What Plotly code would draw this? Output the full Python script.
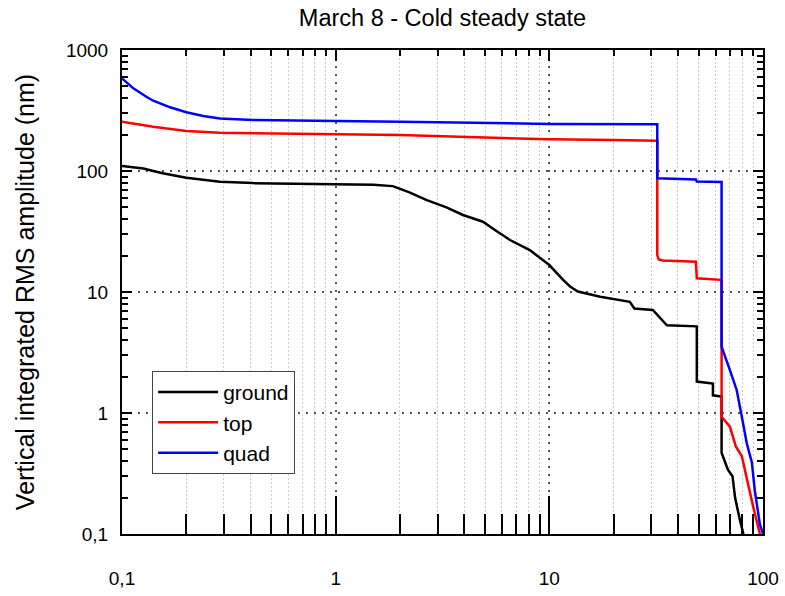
import plotly.graph_objects as go

# frequency (Hz) / integrated RMS (nm)
freq_ground = [0.1, 0.126, 0.14, 0.155, 0.2, 0.287, 0.41, 0.6, 1.0, 1.5, 1.85, 2.2, 2.67,
               3.3, 3.94, 4.89, 5.5, 6.54, 8.1, 10.0, 11.6, 12.5, 13.6, 17.3, 23.8, 25.0,
               30.5, 33.0, 35.5, 49.0, 49.0, 58.3, 58.3, 63.5, 64.0, 64.0, 68.5, 72.0,
               74.0, 78.0, 81.0]
rms_ground = [110, 105, 100, 95.7, 88, 81.6, 79.4, 78.5, 78, 77, 75, 67, 57.5,
              50, 43.3, 38.1, 33, 26.9, 22.2, 16.7, 12.6, 11.1, 10.1, 9.15, 8.3, 7.3,
              7.1, 6.1, 5.3, 5.2, 1.82, 1.75, 1.4, 1.37, 1.37, 0.47, 0.34, 0.30,
              0.2, 0.13, 0.1]

freq_top = [0.1, 0.14, 0.2, 0.287, 0.41, 0.84, 2.0, 5.0, 10.0, 20.0, 32.0, 32.0, 32.5,
            34.0, 48.5, 49.0, 63.5, 64.0, 64.0, 70.0, 74.6, 79.6, 84.0, 89.8, 96.7]
rms_top = [255, 232, 214, 207, 205, 202, 198, 189, 183, 180, 178, 20.2, 18.6,
           18.2, 17.8, 13.0, 12.6, 12.4, 0.93, 0.77, 0.53, 0.44, 0.28, 0.17, 0.1]

freq_quad = [0.1, 0.113, 0.13, 0.14, 0.168, 0.2, 0.24, 0.287, 0.41, 0.59, 1.0, 2.0, 10.0,
             32.0, 32.0, 48.5, 49.0, 64.0, 64.0, 70.0, 75.3, 79.6, 84.0, 88.7, 91.5,
             96.7, 100.0]
rms_quad = [583, 482, 411, 381, 336, 306, 285, 272, 264, 261, 259, 255, 245,
            243, 87, 85, 81.7, 81, 3.53, 2.26, 1.55, 0.93, 0.56, 0.39, 0.23,
            0.12, 0.1]

x_ticks = [0.1, 1, 10, 100]
x_labels = ["0,1", "1", "10", "100"]
y_ticks = [0.1, 1, 10, 100, 1000]
y_labels = ["0,1", "1", "10", "100", "1000"]

FONT = "Arial, Liberation Sans, sans-serif"
x_minor = [m * 10.0 ** k for k in (-1, 0, 1) for m in range(2, 10)]
y_minor = [m * 10.0 ** k for k in (-1, 0, 1, 2) for m in range(2, 10)]

fig = go.Figure()
series = [("ground", freq_ground, rms_ground, "black"),
          ("top", freq_top, rms_top, "#ff0000"),
          ("quad", freq_quad, rms_quad, "#0000ff")]
for name, xs, ys, color in series:
    fig.add_trace(go.Scatter(x=xs, y=ys, name=name, mode="lines",
                             line=dict(color=color, width=2.5)))
# carrier for the top axis (short ticks)
fig.add_trace(go.Scatter(x=[], y=[], xaxis="x2", showlegend=False, hoverinfo="skip"))

fig.update_layout(
    width=785, height=596,
    margin=dict(l=122, r=22, t=50, b=62),
    paper_bgcolor="white", plot_bgcolor="white",
    font=dict(family=FONT, color="black", size=19),
    title=dict(text="March 8 - Cold steady state", x=0.5, xref="paper",
               y=0.97, yref="container", yanchor="middle",
               font=dict(size=23.5, family=FONT)),
    showlegend=True,
    legend=dict(x=0.047, y=0.337, xanchor="left", yanchor="top",
                bgcolor="white", bordercolor="#444", borderwidth=1,
                font=dict(size=21, family=FONT), itemwidth=60,
                tracegroupgap=0),
    xaxis=dict(type="log", range=[-1, 2], tickmode="array", tickvals=x_ticks,
               ticktext=x_labels, ticks="inside", ticklen=38, tickwidth=2,
               tickcolor="black", showline=True, linecolor="black", linewidth=2,
               mirror=True, showgrid=True, gridcolor="#555", gridwidth=1.5,
               griddash="2px,6px", zeroline=False, ticklabelstandoff=26,
               automargin=False, tickfont=dict(size=19),
               minor=dict(tickmode="array", tickvals=x_minor, ticks="inside",
                          ticklen=20, tickwidth=2, tickcolor="black",
                          showgrid=True, gridcolor="#cfcfcf", gridwidth=1,
                          griddash="2px,2px")),
    xaxis2=dict(type="log", range=[-1, 2], overlaying="x", side="top",
                anchor="y", tickmode="array", tickvals=x_ticks,
                showticklabels=False, ticks="inside", ticklen=11, tickwidth=2,
                tickcolor="black", showgrid=False, zeroline=False,
                automargin=False,
                minor=dict(tickmode="array", tickvals=x_minor, ticks="inside",
                           ticklen=6, tickwidth=2, tickcolor="black",
                           showgrid=False)),
    yaxis=dict(type="log", range=[-1, 3], tickmode="array", tickvals=y_ticks,
               ticktext=y_labels, ticks="inside", ticklen=10, tickwidth=2,
               tickcolor="black", showline=True, linecolor="black", linewidth=2,
               mirror="ticks", showgrid=True, gridcolor="#555", gridwidth=1.5,
               griddash="2px,6px", zeroline=False, ticklabelstandoff=8,
               automargin=False, tickfont=dict(size=19),
               title=dict(text="Vertical integrated RMS amplitude (nm)",
                          font=dict(size=25, family=FONT), standoff=24),
               minor=dict(tickmode="array", tickvals=y_minor, ticks="inside",
                          ticklen=6, tickwidth=2, tickcolor="black",
                          showgrid=False)),
)

# drop the browser's default body margin so the figure sits at the page origin
fig.write_html("out.html", config={"displayModeBar": False},
               post_script="document.body.style.margin='0';")
